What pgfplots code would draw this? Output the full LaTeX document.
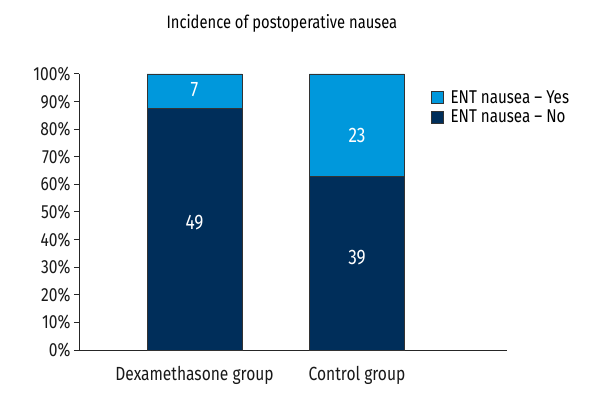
\documentclass[border=0pt]{standalone}
\usepackage{fontspec}
\setmainfont{Fira Sans}[FakeStretch=0.82]
\usepackage{pgfplots}
\pgfplotsset{compat=1.18}
\usepackage{pgfplotstable}

\definecolor{yescol}{RGB}{0,152,220}
\definecolor{nocol}{RGB}{0,46,90}

% counts: Dexamethasone 49 no / 7 yes, Control 39 no / 23 yes
% dy = label offset from the segment centre, in % units
\pgfplotstableread{
x pct n dy
0 87.50 49 2.5
1 62.90 39 2.2
}\nodata
\pgfplotstableread{
x pct n dy
0 12.50 7 0.7
1 37.10 23 -3.6
}\yesdata

\begin{document}
\begin{tikzpicture}
  \begin{axis}[
    scale only axis,
    width=428bp, height=276bp,
    xmin=-0.711, xmax=1.923,
    ymin=0, ymax=100,
    ybar stacked,
    bar width=0.585,
    axis lines*=left,
    axis line style={line width=1bp, black!85},
    xtick={0,1},
    xticklabels={Dexamethasone group, Control group},
    x tick style={draw=none},
    xticklabel style={yshift=-8bp},
    ytick={0,10,...,100},
    yticklabel={\pgfmathprintnumber{\tick}\%},
    tick align=outside,
    major tick length=5bp,
    y tick style={line width=1bp, black!85},
    /pgf/number format/assume math mode=true,
    tick label style={font=\fontsize{19bp}{22bp}\selectfont, black!90},
    title={Incidence of postoperative nausea},
    title style={at={(0.474,1.16)}, anchor=center, font=\fontsize{18bp}{22bp}\selectfont},
    point meta=explicit,
    nodes near coords,
    visualization depends on={\thisrow{dy} \as \dy},
    % stacked bars: pgfplots centres these labels in each segment
    every node near coord/.append style={white, anchor=center,
      font=\fontsize{21bp}{24bp}\selectfont,
      shift={(axis direction cs:0,\dy)}},
    legend style={at={(0.815,0.955)}, anchor=north west, draw=none, fill=none,
      font=\fontsize{18.5bp}{22bp}\selectfont, row sep=1bp},
    legend cell align=left,
    reverse legend,
    legend image code/.code={\draw[#1, draw=black!80] (0bp,-6bp) rectangle (12bp,6bp); \path (17bp,0bp);},
  ]
    \addplot[fill=nocol, draw=black!80, line width=0.6bp] table[x=x, y=pct, meta=n] {\nodata};
    \addplot[fill=yescol, draw=black!80, line width=0.6bp] table[x=x, y=pct, meta=n] {\yesdata};
    \legend{ENT nausea -- No, ENT nausea -- Yes}
    \coordinate (O) at (rel axis cs:0,0);
  \end{axis}
  \pgfresetboundingbox
  \path ([shift={(-79bp,-50bp)}]O) rectangle ++(600bp,400bp);
\end{tikzpicture}
\end{document}
